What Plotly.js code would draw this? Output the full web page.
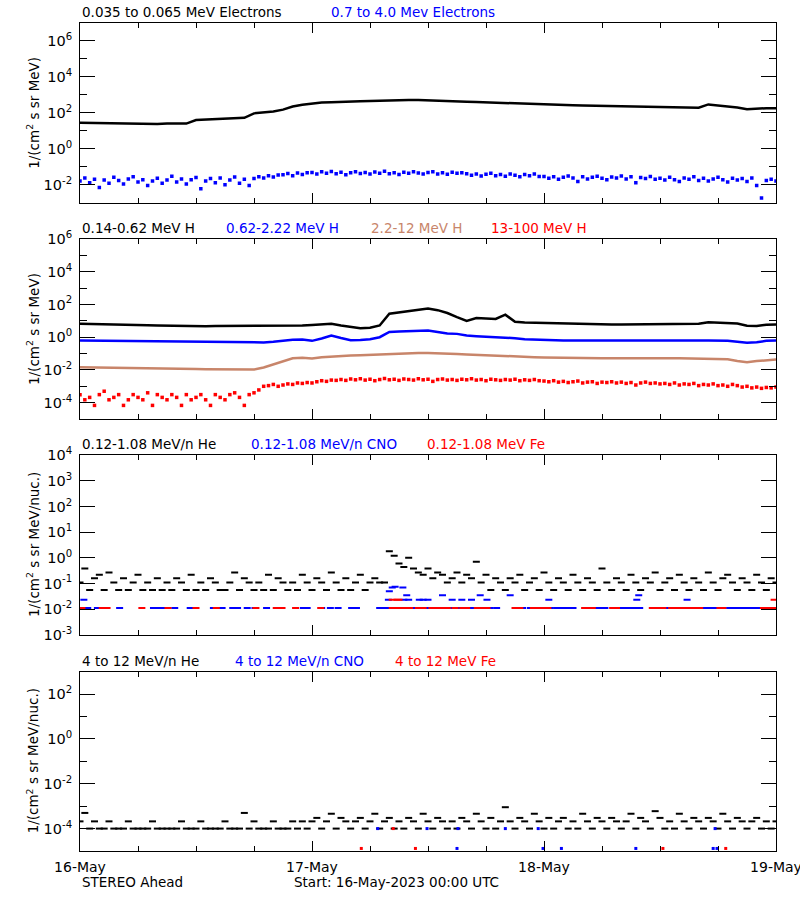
<!DOCTYPE html>
<html>
<head>
<meta charset="utf-8">
<script src="https://cdn.plot.ly/plotly-3.0.1.min.js"></script>
<style>html,body{margin:0;padding:0;background:#fff}#chart{width:800px;height:900px}</style>
</head>
<body>
<div id="chart"></div>
<script>
// ---------------- DATA ----------------
// x: hours since 16-May-2023 00:00 UTC
const dayHours = [0, 24, 48, 72];
const dayLabels = ['16-May', '17-May', '18-May', '19-May'];

// Panel 1 : electrons
const eLowFlux = [28.2,27.5,26.9,26.3,25.1,25.7,25.1,25.1,24.0,25.1,24.5,25.1,
  39.8,41.7,43.7,45.7,47.9,52.5,
  93.3,105,120,151,224,282,339,372,389,417,437,447,457,479,501,525,
  525,513,501,490,468,457,417,398,380,363,339,316,302,288,
  282,275,269,263,257,251,245,240,234,229,224,214,209,204,200,195,191,
  295,260,220,200,160,178,182,182];           // hourly
const eHighFlux = [0.016,0.024,0.013,0.020,0.007,0.018,0.012,0.026,0.017,0.011,0.021,0.028,0.014,0.019,0.009,0.016,0.023,0.012,
  0.018,0.030,0.014,0.021,0.011,0.019,0.025,0.006,0.016,0.022,0.013,0.024,0.010,0.018,0.027,0.012,0.020,0.009,
  0.022,0.028,0.024,0.032,0.027,0.035,
  0.036,0.042,0.032,0.045,0.037,0.047,
  0.048,0.039,0.052,0.043,0.055,0.041,0.049,0.036,0.046,0.053,0.042,0.048,0.039,0.051,0.044,0.056,
  0.041,0.047,0.037,0.050,0.043,0.053,0.045,0.039,0.048,0.052,0.040,0.046,0.038,0.050,0.043,0.047,
  0.041,0.034,0.039,0.031,0.038,0.043,0.032,0.037,0.030,0.040,0.034,0.028,0.037,0.032,0.039,0.029,
  0.029,0.023,0.028,0.020,0.026,0.031,0.024,0.015,0.028,0.021,0.026,0.030,0.023,0.019,0.027,0.024,
  0.031,0.021,0.028,0.013,0.025,0.022,0.029,0.020,
  0.023,0.018,0.026,0.019,0.015,0.024,0.020,0.028,0.017,0.023,0.016,0.021,0.026,0.019,0.014,0.023,
  0.018,0.022,0.015,0.024,0.009,0.0018,0.017,0.020,0.016];   // half-hourly

// Panel 2 : protons
const h1Flux = [6.6,6.5,6.3,6.2,6.0,5.8,5.6,5.4,5.2,5.0,4.9,4.8,4.7,4.7,4.8,4.8,4.9,5.0,4.9,4.7,
  4.7,4.8,5.0,5.2,5.6,6.3,6.6,5.2,4.2,3.5,3.8,5.2,
  27,33,40,50,57,45,30,17,10,15,14,13,24,8.7,7.9,7.6,
  7.2,6.9,6.6,6.3,6.3,6.2,6.0,6.0,6.0,6.0,6.2,6.2,6.2,6.3,6.3,6.3,6.6,8.3,7.9,7.2,6.9,5.0,4.8,5.8,6.0]; // hourly
const h2Flux = [0.63,0.62,0.60,0.60,0.59,0.58,0.56,0.55,0.54,0.52,0.51,0.50,0.49,0.48,0.48,0.47,0.47,0.46,0.47,0.48,
  0.52,0.63,0.69,0.72,0.60,0.83,1.26,0.89,0.65,0.68,0.76,1.0,2.1,2.2,2.4,2.6,2.6,2.1,1.7,1.6,
  1.26,1.15,1.1,1.0,0.91,0.87,0.76,0.72,0.66,0.65,
  0.64,0.63,0.62,0.63,0.64,0.63,0.62,0.63,0.63,0.62,0.63,0.64,0.63,0.62,0.63,0.63,0.62,
  0.60,0.52,0.46,0.50,0.60,0.63];            // hourly
const h3Flux = [0.0145,0.0141,0.0138,0.0138,0.0135,0.0132,0.0129,0.0126,0.0126,0.0123,0.0120,0.0117,0.0115,0.0112,0.0110,0.0107,0.0105,0.0105,0.0105,
  0.0141,0.022,0.035,0.052,0.055,0.050,0.060,0.066,0.071,0.076,0.079,0.083,0.091,0.100,0.102,0.105,0.107,0.107,0.105,0.100,0.095,0.089,0.083,0.079,0.076,0.071,0.066,0.063,0.060,
  0.058,0.056,0.055,0.054,0.054,0.052,0.052,0.052,0.051,0.051,0.051,0.051,0.051,0.051,0.051,0.050,0.050,0.050,0.050,
  0.045,0.035,0.030,0.035,0.040,0.043];      // hourly
const h4Flux = [3.1e-4,1.5e-4,2.1e-4,6.8e-5,3.1e-4,5e-4,1.5e-4,2.1e-4,3.1e-4,6.8e-5,1.5e-4,3.1e-4,2.1e-4,1.5e-4,4e-4,6.8e-5,3.1e-4,2.1e-4,
  1.5e-4,3.1e-4,2.1e-4,6.8e-5,3.1e-4,1.5e-4,2.1e-4,3.1e-4,1.5e-4,6.8e-5,3.1e-4,2.1e-4,1.5e-4,3.1e-4,4e-4,2.1e-4,6.8e-5,3.1e-4,
  4e-4,6e-4,1.0e-3,1.1e-3,1.3e-3,1.0e-3,1.2e-3,1.4e-3,1.3e-3,1.6e-3,1.5e-3,1.7e-3,1.6e-3,1.9e-3,2.2e-3,2.0e-3,2.4e-3,2.3e-3,
  2.6e-3,2.3e-3,2.8e-3,2.5e-3,2.9e-3,2.4e-3,2.7e-3,2.2e-3,2.6e-3,3.0e-3,2.5e-3,2.7e-3,2.3e-3,2.8e-3,2.6e-3,2.4e-3,2.9e-3,2.5e-3,2.7e-3,2.0e-3,2.6e-3,
  2.8e-3,2.4e-3,2.6e-3,2.3e-3,2.7e-3,2.5e-3,2.9e-3,2.4e-3,2.6e-3,2.2e-3,2.7e-3,2.5e-3,2.3e-3,2.6e-3,2.4e-3,2.7e-3,2.2e-3,2.5e-3,2.3e-3,2.6e-3,2.2e-3,
  2.1e-3,1.9e-3,2.2e-3,1.8e-3,2.0e-3,1.7e-3,1.9e-3,2.1e-3,1.6e-3,1.8e-3,1.9e-3,1.5e-3,1.8e-3,1.7e-3,1.9e-3,1.6e-3,1.8e-3,1.5e-3,1.7e-3,1.2e-3,1.6e-3,1.8e-3,1.5e-3,1.6e-3,1.4e-3,
  1.5e-3,1.3e-3,1.6e-3,1.2e-3,1.4e-3,1.3e-3,1.5e-3,1.1e-3,1.3e-3,1.2e-3,1.4e-3,1.1e-3,1.2e-3,1.0e-3,1.3e-3,1.1e-3,0.9e-3,1.0e-3,0.8e-3,0.9e-3,0.75e-3,0.85e-3,0.8e-3,0.9e-3]; // half-hourly

// Panel 3 : 0.12-1.08 MeV/n heavy ions
const he3Flux = [0.11,0.38,0.055,0.16,0.22,0.055,0.27,0.11,0.055,0.16,
  0.055,0.11,0.22,0.055,0.11,0.055,0.16,0.055,0.11,0.055,
  0.16,0.11,0.055,0.22,0.055,0.11,0.055,0.16,0.11,0.055,
  0.055,0.11,0.27,0.055,0.16,0.11,0.055,0.11,0.055,0.22,
  0.055,0.16,0.11,0.055,0.11,0.055,0.22,0.11,0.055,0.16,
  0.11,0.055,0.27,0.11,0.055,0.16,0.055,0.11,0.22,0.055,
  0.11,0.16,0.11,0.11,1.8,1.2,0.6,0.44,1.0,0.38,
  0.27,0.22,0.38,0.16,0.27,0.22,0.11,0.16,0.27,0.11,
  0.22,0.16,0.7,0.11,0.22,0.055,0.16,0.11,
  0.055,0.16,0.11,0.22,0.055,0.11,0.16,0.055,0.27,0.11,0.055,0.16,
  0.11,0.055,0.22,0.11,0.055,0.16,0.11,0.055,0.38,0.11,
  0.055,0.16,0.11,0.055,0.22,0.11,0.055,0.16,0.11,0.27,
  0.055,0.11,0.16,0.055,0.22,0.11,0.055,0.16,0.11,0.055,
  0.27,0.11,0.055,0.16,0.22,0.11,0.055,0.16,0.11,0.055,
  0.22,0.11,0.055,0.16,0.11];               // half-hourly
const cno3Hours = [0.3,0.8,1.8,2.3,4.1,7.6,8.1,8.7,9.8,11.4,13.8,14.7,15.8,16.3,17.3,18.1,19.3,20.7,23.1,23.5,25.0,25.9,26.7,
  28.1,28.6,31.0,31.4,31.8,32.2,32.6,33.1,33.6,34.1,34.7,35.2,35.7,36.2,36.9,37.4,38.0,38.6,39.1,39.7,40.3,40.7,41.2,41.7,42.1,42.4,43.1,
  45.2,45.8,46.6,47.3,47.9,48.6,49.3,49.8,50.4,51.0,52.4,52.9,53.4,53.8,54.3,55.9,56.4,56.9,57.4,57.9,59.3,60.7,61.2,61.8,
  64.1,64.6,65.1,65.6,66.2,67.2,67.7,68.2,68.7,69.2,69.8,70.3,71.1,71.6,72.0,
  0.4,31.9,33.5,34.0,35.1,35.5,36.0,38.5,39.5,40.5,42.1,48.5,57.6,62.8,
  33.8,37.5,41.4,44.5,57.8,32.0,32.3,32.6,33.4];
const cno3Flux = [0.011,0.011,0.011,0.011,0.011,0.011,0.011,0.011,0.011,0.011,0.011,0.011,0.011,0.011,0.011,0.011,0.011,0.011,0.011,0.011,0.011,0.011,0.011,
  0.011,0.011,0.011,0.011,0.011,0.011,0.011,0.011,0.011,0.011,0.011,0.011,0.011,0.011,0.011,0.011,0.011,0.011,0.011,0.011,0.011,0.011,0.011,0.011,0.011,0.011,0.011,
  0.011,0.011,0.011,0.011,0.011,0.011,0.011,0.011,0.011,0.011,0.011,0.011,0.011,0.011,0.011,0.011,0.011,0.011,0.011,0.011,0.011,0.011,0.011,0.011,
  0.011,0.011,0.011,0.011,0.011,0.011,0.011,0.011,0.011,0.011,0.011,0.011,0.011,0.011,0.011,
  0.023,0.023,0.023,0.023,0.023,0.023,0.023,0.023,0.023,0.023,0.023,0.023,0.023,0.023,
  0.035,0.035,0.035,0.035,0.035,0.05,0.07,0.075,0.07];
const fe3Hours = [0.2,2.3,2.8,6.4,9.1,12.0,14.1,18.2,20.3,20.9,22.3,24.9,32.3,32.8,33.3,33.7,34.1,35.0,35.5,36.4,36.9,37.4,38.0,38.8,
  39.6,40.0,41.1,41.6,42.1,45.0,45.5,46.9,47.4,47.9,48.4,52.2,52.6,53.0,55.1,55.5,59.2,59.7,60.3,61.2,61.8,62.4,62.9,63.5,64.1,
  66.2,66.5,70.7,71.2,71.7,72.0, 32.3,32.8,33.0,71.8];
const fe3Flux = [0.011,0.011,0.011,0.011,0.011,0.011,0.011,0.011,0.011,0.011,0.011,0.011,0.011,0.011,0.011,0.011,0.011,0.011,0.011,0.011,0.011,0.011,0.011,0.011,
  0.011,0.011,0.011,0.011,0.011,0.011,0.011,0.011,0.011,0.011,0.011,0.011,0.011,0.011,0.011,0.011,0.011,0.011,0.011,0.011,0.011,0.011,0.011,0.011,0.011,
  0.011,0.011,0.011,0.011,0.011,0.011, 0.023,0.023,0.023,0.023];

// Panel 4 : 4-12 MeV/n heavy ions
const he4Flux = [2.1e-4,5e-4,1e-4,2.1e-4,1e-4,1e-4,2.1e-4,1e-4,1e-4,1e-4,
  2.1e-4,1e-4,1e-4,1e-4,1e-4,2.1e-4,1e-4,1e-4,1e-4,1e-4,
  1e-4,2.1e-4,1e-4,1e-4,1e-4,2.1e-4,1e-4,1e-4,1e-4,1e-4,
  2.1e-4,1e-4,1e-4,1e-4,5e-4,1e-4,2.1e-4,1e-4,1e-4,1e-4,
  2.1e-4,1e-4,1e-4,1e-4,2.1e-4,1e-4,2.1e-4,1e-4,
  2.1e-4,3e-4,1e-4,2.1e-4,4.6e-4,1e-4,3e-4,2.1e-4,1e-4,2.1e-4,
  3e-4,1e-4,2.1e-4,4.6e-4,1e-4,2.1e-4,3e-4,1e-4,2.1e-4,1e-4,
  3e-4,2.1e-4,1e-4,4.6e-4,2.1e-4,1e-4,3e-4,2.1e-4,1e-4,2.1e-4,
  1e-4,3e-4,2.1e-4,1e-4,4.6e-4,2.1e-4,1e-4,3e-4,1e-4,2.1e-4,
  9e-4,2.1e-4,1e-4,3e-4,2.1e-4,1e-4,4.6e-4,2.1e-4,1e-4,3e-4,
  1e-4,2.1e-4,3e-4,1e-4,2.1e-4,1e-4,4.6e-4,2.1e-4,1e-4,3e-4,
  2.1e-4,1e-4,3e-4,2.1e-4,1e-4,2.1e-4,4.6e-4,1e-4,3e-4,2.1e-4,
  1e-4,6e-4,3e-4,1e-4,2.1e-4,1e-4,4.6e-4,2.1e-4,1e-4,3e-4,
  2.1e-4,1e-4,3e-4,2.1e-4,1e-4,4.6e-4,2.1e-4,1e-4,3e-4,2.1e-4,
  1e-4,2.1e-4,3e-4,1e-4,2.1e-4,1e-4,2.1e-4];  // half-hourly
const cno4Hours = [30.8,35.9,39.1,44.0,47.4,65.7,39.0,47.9,49.8,57.5,65.5,65.9];
const cno4Flux = [1e-4,1e-4,1e-4,1e-4,1e-4,1e-4,1.3e-5,1.3e-5,1.3e-5,1.3e-5,1.3e-5,1.3e-5];
const fe4Hours = [29.1,34.7,60.3,66.8,32.4];
const fe4Flux = [1.3e-5,1.3e-5,1.3e-5,1.3e-5,1e-4];

// Panel labels
const panelLabels = [
  ['0.035 to 0.065 MeV Electrons', '0.7 to 4.0 Mev Electrons'],
  ['0.14-0.62 MeV H', '0.62-2.22 MeV H', '2.2-12 MeV H', '13-100 MeV H'],
  ['0.12-1.08 MeV/n He', '0.12-1.08 MeV/n CNO', '0.12-1.08 MeV Fe'],
  ['4 to 12 MeV/n He', '4 to 12 MeV/n CNO', '4 to 12 MeV Fe']
];
const yTitles = ['1/(cm<sup>2</sup> s sr MeV)', '1/(cm<sup>2</sup> s sr MeV)',
  '1/(cm<sup>2</sup> s sr MeV/nuc.)', '1/(cm<sup>2</sup> s sr MeV/nuc.)'];
const footLeft = 'STEREO Ahead';
const footMid = 'Start: 16-May-2023 00:00 UTC';

// ---------------- STYLE / LAYOUT ----------------
const FONT = 'DejaVu Sans';
const BLACK = '#000000', BLUE = '#0000ff', TAN = '#c8856a', RED = '#ff0000';
const panelColors = [[BLACK, BLUE], [BLACK, BLUE, TAN, RED], [BLACK, BLUE, RED], [BLACK, BLUE, RED]];
const labelOffsets = [[0, 249], [0, 144, 289, 409], [0, 169, 345], [0, 153, 313]]; // px from plot left
const PLOT_W = 696;

const hourly = n => Array.from({length: n}, (_, i) => i);
const halfHourly = n => Array.from({length: n}, (_, i) => i * 0.5);

function lineTrace(y, color, ax) {
  return {x: hourly(y.length), y: y, xaxis: 'x' + ax, yaxis: 'y' + ax, type: 'scatter', mode: 'lines',
    line: {color: color, width: 2.5}, hoverinfo: 'skip', showlegend: false};
}
function dotTrace(x, y, color, ax, size) {
  return {x: x, y: y, xaxis: 'x' + ax, yaxis: 'y' + ax, type: 'scatter', mode: 'markers',
    marker: {symbol: 'square', size: size || 3, color: color, line: {width: 0}}, hoverinfo: 'skip', showlegend: false};
}
function dashTrace(x, y, color, ax) {
  return {x: x, y: y, xaxis: 'x' + ax, yaxis: 'y' + ax, type: 'scatter', mode: 'markers',
    marker: {symbol: 'line-ew', size: 5, color: color, line: {width: 2, color: color}}, hoverinfo: 'skip', showlegend: false};
}

const traces = [
  lineTrace(eLowFlux, BLACK, ''),
  dotTrace(halfHourly(eHighFlux.length), eHighFlux, BLUE, '', 3.5),
  lineTrace(h1Flux, BLACK, '2'),
  lineTrace(h2Flux, BLUE, '2'),
  lineTrace(h3Flux, TAN, '2'),
  dotTrace(halfHourly(h4Flux.length), h4Flux, RED, '2', 3.5),
  dashTrace(halfHourly(he3Flux.length), he3Flux, BLACK, '3'),
  dashTrace(cno3Hours, cno3Flux, BLUE, '3'),
  dashTrace(fe3Hours, fe3Flux, RED, '3'),
  dashTrace(halfHourly(he4Flux.length), he4Flux, BLACK, '4'),
  dotTrace(cno4Hours, cno4Flux, BLUE, '4', 3),
  dotTrace(fe4Hours, fe4Flux, RED, '4', 3)
];

const domains = [[0.783, 1.0], [0.5217, 0.7391], [0.2612, 0.4779], [0, 0.2165]];
const yRanges = [[-3, 7], [-5, 6], [-3, 4], [-5, 3]];
const yMajor = [[-2, 0, 2, 4, 6], [-4, -2, 0, 2, 4, 6], [-3, -2, -1, 0, 1, 2, 3, 4], [-4, -2, 0, 2]];
const yMinor = [[-1, 1, 3, 5], [-3, -1, 1, 3, 5], [], [-3, -1, 1]];

const layout = {
  width: 800, height: 900,
  margin: {l: 80, r: 24, t: 23, b: 49, pad: 0},
  paper_bgcolor: '#ffffff', plot_bgcolor: '#ffffff',
  font: {family: FONT, size: 13, color: BLACK},
  showlegend: false,
  annotations: []
};

const axSuffix = ['', '2', '3', '4'];
for (let p = 0; p < 4; p++) {
  const s = axSuffix[p];
  layout['xaxis' + s] = {
    domain: [0, 1], anchor: 'y' + s, range: [0, 72], type: 'linear',
    showline: true, linecolor: BLACK, linewidth: 1, mirror: 'ticks',
    ticks: 'inside', ticklen: 10, tickwidth: 1, tickcolor: BLACK,
    tickmode: 'array', tickvals: dayHours, ticktext: dayLabels,
    showticklabels: p === 3, ticklabelstandoff: 3, ticklabeloverflow: 'allow',
    tickfont: {family: FONT, size: 14, color: BLACK},
    minor: {tick0: 0, dtick: 6, ticks: 'inside', ticklen: 5, tickwidth: 1, tickcolor: BLACK, showgrid: false},
    showgrid: false, zeroline: false, automargin: false, fixedrange: true
  };
  layout['yaxis' + s] = {
    domain: domains[p], anchor: 'x' + s, type: 'log', range: yRanges[p],
    showline: true, linecolor: BLACK, linewidth: 1, mirror: 'ticks',
    ticks: 'inside', ticklen: 15, tickwidth: 1, tickcolor: BLACK,
    tickmode: 'array', tickvals: yMajor[p].map(e => Math.pow(10, e)),
    ticktext: yMajor[p].map(e => '10<sup>' + e + '</sup>'),
    ticklabelstandoff: 4,
    tickfont: {family: FONT, size: 14.5, color: BLACK},
    minor: {tickmode: 'array', tickvals: yMinor[p].map(e => Math.pow(10, e)), ticks: 'inside', ticklen: 7, tickwidth: 1, tickcolor: BLACK, showgrid: false},
    showgrid: false, zeroline: false, automargin: false, fixedrange: true
  };
  // panel title segments
  panelLabels[p].forEach((txt, k) => {
    layout.annotations.push({
      text: txt, showarrow: false, xref: 'x' + s + ' domain', yref: 'y' + s + ' domain',
      x: labelOffsets[p][k] / PLOT_W, y: 1, xanchor: 'left', yanchor: 'bottom', yshift: 1,
      font: {family: FONT, size: 13.5, color: panelColors[p][k]}
    });
  });
  // y axis title
  layout.annotations.push({
    text: yTitles[p], showarrow: false, textangle: -90,
    xref: 'paper', yref: 'y' + s + ' domain', x: -47 / PLOT_W, y: 0.5,
    xanchor: 'center', yanchor: 'middle',
    font: {family: FONT, size: 13.5, color: BLACK}
  });
}
layout.annotations.push({text: footLeft, showarrow: false, xref: 'paper', yref: 'paper',
  x: 0, y: -31 / 828, xanchor: 'left', yanchor: 'middle', font: {family: FONT, size: 13.5, color: BLACK}});
layout.annotations.push({text: footMid, showarrow: false, xref: 'paper', yref: 'paper',
  x: 212 / PLOT_W, y: -31 / 828, xanchor: 'left', yanchor: 'middle', font: {family: FONT, size: 13.5, color: BLACK}});

Plotly.newPlot('chart', traces, layout, {displayModeBar: false, staticPlot: true});
</script>
</body>
</html>
